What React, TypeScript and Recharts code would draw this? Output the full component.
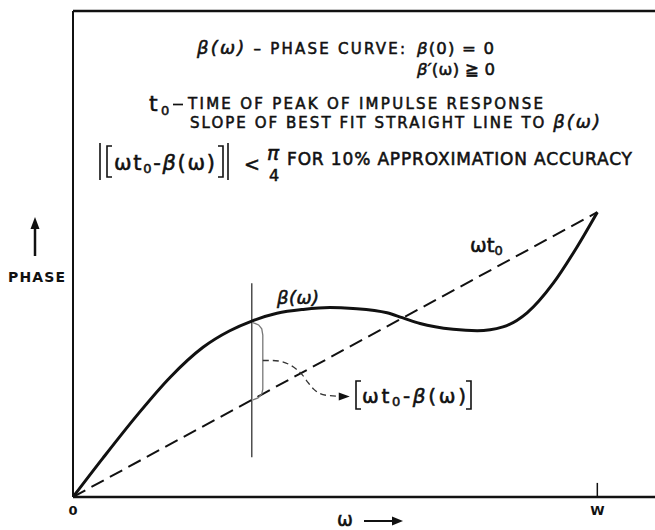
import React from "react";
import {
  ComposedChart,
  Line,
  XAxis,
  YAxis,
  ReferenceLine,
  Customized,
} from "recharts";

// Normalised frequency (W = 1) and the phase curve β(ω), in arbitrary phase units
const OMEGA = [
  0, 0.057, 0.122, 0.185, 0.248, 0.299, 0.341, 0.389, 0.439, 0.49, 0.534,
  0.599, 0.628, 0.662, 0.725, 0.771, 0.82, 0.866, 0.916, 0.961, 1.0,
];
const BETA = [
  0, 0.8, 1.68, 2.46, 3.08, 3.42, 3.62, 3.78, 3.86, 3.9, 3.88, 3.79, 3.69,
  3.57, 3.45, 3.42, 3.5, 3.79, 4.4, 5.14, 5.86,
];
// slope of the best-fit straight line ωt0
const T0 = 5.86;
const W = 1;
// frequency at which the deviation is marked
const MARK_INDEX = 6;
const X_TICKS = [0, W];
const X_TICK_LABELS = ["0", "W"];

const phaseData = OMEGA.map((w, i) => ({ w, p: BETA[i] }));
const fitData = [
  { w: 0, p: 0 },
  { w: W, p: T0 * W },
];

const w1 = OMEGA[MARK_INDEX];
const b1 = BETA[MARK_INDEX];
const fit1 = T0 * w1;

// curly brace spanning β(ω1) down to ω1·t0
const braceData = [
  { w: w1 + 0.002, p: b1 - 0.03 },
  { w: w1 + 0.013, p: b1 - 0.08 },
  { w: w1 + 0.019, p: b1 - 0.16 },
  { w: w1 + 0.021, p: b1 - 0.29 },
  { w: w1 + 0.021, p: fit1 + 0.22 },
  { w: w1 + 0.019, p: fit1 + 0.12 },
  { w: w1 + 0.012, p: fit1 + 0.04 },
  { w: w1 + 0.002, p: fit1 },
];

// dashed pointer from the brace to the deviation label
const braceMid = (b1 + fit1) / 2;
const pointerData = [
  { w: w1 + 0.021, p: braceMid },
  { w: w1 + 0.039, p: braceMid },
  { w: w1 + 0.056, p: braceMid - 0.02 },
  { w: w1 + 0.071, p: braceMid - 0.08 },
  { w: w1 + 0.084, p: braceMid - 0.17 },
  { w: w1 + 0.096, p: braceMid - 0.29 },
  { w: w1 + 0.107, p: braceMid - 0.45 },
  { w: w1 + 0.119, p: braceMid - 0.6 },
  { w: w1 + 0.13, p: braceMid - 0.68 },
  { w: w1 + 0.145, p: braceMid - 0.72 },
  { w: w1 + 0.183, p: braceMid - 0.74 },
];

const INK = "#111";
const FONT = "'DejaVu Sans', 'Liberation Sans', sans-serif";
// lettering weight: regular glyphs with a thin outline
const LETTER = { stroke: INK, strokeWidth: 0.55 };

const AxisTick = (props: any) => {
  const { x, y, payload } = props;
  const idx = X_TICKS.indexOf(payload.value);
  return (
    <text
      x={x}
      y={y + 10}
      textAnchor="middle"
      fontFamily={FONT}
      fontWeight="bold"
      fontSize={13}
      fill={INK}
    >
      {X_TICK_LABELS[idx] ?? ""}
    </text>
  );
};

const ArrowHead = (props: any) => {
  const { cx, cy, index } = props;
  if (index !== pointerData.length - 1 || cx == null) return <g key={`a${index}`} />;
  return (
    <polygon
      key={`a${index}`}
      points={`${cx + 2},${cy} ${cx - 9},${cy - 4} ${cx - 9},${cy + 4}`}
      fill={INK}
    />
  );
};

const Bracket = ({ x, y1, y2, dir }: { x: number; y1: number; y2: number; dir: number }) => (
  <path
    d={`M${x + dir * 5},${y1} L${x},${y1} L${x},${y2} L${x + dir * 5},${y2}`}
    stroke={INK}
    strokeWidth={1.6}
    fill="none"
  />
);

const Annotations = () => (
  <g fontFamily={FONT} fill={INK}>
    {/* definitions block */}
    <text x={197} y={54} fontSize={15} textLength={208} lengthAdjust="spacing" {...LETTER}>
      <tspan fontSize={18} fontStyle="italic">β(ω)</tspan>
      <tspan> – PHASE CURVE:</tspan>
    </text>
    <text x={417} y={54} fontSize={16.5} textLength={77} lengthAdjust="spacing" {...LETTER}>
      <tspan fontStyle="italic">β</tspan>(0) = 0
    </text>
    <text x={417} y={75} fontSize={16.5} textLength={78} lengthAdjust="spacing" {...LETTER}>
      <tspan fontStyle="italic">β′</tspan>(ω) ≧ 0
    </text>

    <text x={149} y={111} fontSize={22} {...LETTER}>t</text>
    <text x={161} y={115} fontSize={13} {...LETTER}>0</text>
    <line x1={173} y1={104.5} x2={183} y2={104.5} stroke={INK} strokeWidth={1.7} />
    <text x={188} y={109} fontSize={15} textLength={355} lengthAdjust="spacing" {...LETTER}>
      TIME OF PEAK OF IMPULSE RESPONSE
    </text>
    <text x={190} y={128} fontSize={15} textLength={410} lengthAdjust="spacing" {...LETTER}>
      SLOPE OF BEST FIT STRAIGHT LINE TO{" "}
      <tspan fontSize={18} fontStyle="italic">β(ω)</tspan>
    </text>

    <line x1={100} y1={143} x2={100} y2={180} stroke={INK} strokeWidth={1.6} />
    <line x1={228} y1={143} x2={228} y2={180} stroke={INK} strokeWidth={1.6} />
    <Bracket x={107} y1={146} y2={177} dir={1} />
    <Bracket x={223} y1={146} y2={177} dir={-1} />
    <text x={114} y={170} fontSize={21} textLength={101} lengthAdjust="spacing" {...LETTER}>
      ωt<tspan fontSize={13} dy={3}>0</tspan>
      <tspan dy={-3}>-</tspan>
      <tspan fontStyle="italic">β</tspan>(ω)
    </text>
    <text x={252} y={171} fontSize={19} textAnchor="middle" {...LETTER}>&lt;</text>
    <text x={273} y={160} fontSize={20} textAnchor="middle" fontStyle="italic" {...LETTER}>π</text>
    <text x={274} y={181} fontSize={16} textAnchor="middle" {...LETTER}>4</text>
    <text x={287} y={165} fontSize={17} textLength={345} lengthAdjust="spacing" {...LETTER}>
      FOR 10% APPROXIMATION ACCURACY
    </text>

    {/* in-plot labels */}
    <text x={277} y={304} fontSize={18} fontStyle="italic" textLength={42} lengthAdjust="spacing" {...LETTER}>
      β(ω)
    </text>
    <text x={470} y={252} fontSize={20} {...LETTER}>
      ωt<tspan fontSize={13} dy={3}>0</tspan>
    </text>
    <Bracket x={356} y1={381} y2={409} dir={1} />
    <Bracket x={471} y1={381} y2={409} dir={-1} />
    <text x={362} y={403} fontSize={20} textLength={104} lengthAdjust="spacing" {...LETTER}>
      ωt<tspan fontSize={13} dy={3}>0</tspan>
      <tspan dy={-3}>-</tspan>
      <tspan fontStyle="italic">β</tspan>(ω)
    </text>

    {/* axis captions */}
    <text x={8} y={282} fontSize={14} fontWeight="bold" textLength={57} lengthAdjust="spacing">
      PHASE
    </text>
    <line x1={35} y1={256} x2={35} y2={226} stroke={INK} strokeWidth={2.5} />
    <polygon points="35,217 30.5,229 39.5,229" fill={INK} />
    <text x={337} y={526} fontSize={19} {...LETTER}>ω</text>
    <line x1={364} y1={521} x2={395} y2={521} stroke={INK} strokeWidth={2} />
    <polygon points="403,521 392,516.5 392,525.5" fill={INK} />
  </g>
);

export default function App() {
  return (
    <div style={{ position: "absolute", left: 0, top: 0, width: 655, height: 530, background: "#fff" }}>
      <ComposedChart
        width={655}
        height={530}
        data={phaseData}
        margin={{ top: 11, right: 0, bottom: 32, left: 72 }}
      >
        <XAxis
          type="number"
          dataKey="w"
          domain={[0, 1.11]}
          ticks={X_TICKS}
          height={1}
          allowDataOverflow
          axisLine={{ stroke: INK, strokeWidth: 2.5 }}
          tickLine={false}
          tick={<AxisTick />}
          interval={0}
        />
        <YAxis
          type="number"
          domain={[0, 10]}
          width={1}
          allowDataOverflow
          tick={false}
          tickLine={false}
          axisLine={{ stroke: INK, strokeWidth: 2 }}
        />
        {/* top edge of the frame */}
        <ReferenceLine y={10} stroke={INK} strokeWidth={2.5} />
        {/* W tick mark */}
        <ReferenceLine
          segment={[
            { x: W, y: 0 },
            { x: W, y: 0.29 },
          ]}
          stroke={INK}
          strokeWidth={1.5}
        />
        {/* vertical marker at ω1 */}
        <ReferenceLine
          segment={[
            { x: w1, y: 0.82 },
            { x: w1, y: 4.4 },
          ]}
          stroke="#333"
          strokeWidth={1.3}
        />
        <Line
          data={fitData}
          dataKey="p"
          type="linear"
          stroke={INK}
          strokeWidth={2}
          strokeDasharray="14 7"
          dot={false}
          activeDot={false}
          isAnimationActive={false}
        />
        <Line
          dataKey="p"
          type="monotone"
          stroke={INK}
          strokeWidth={3}
          dot={false}
          activeDot={false}
          isAnimationActive={false}
        />
        <Line
          data={braceData}
          dataKey="p"
          type="linear"
          stroke="#777"
          strokeWidth={1.3}
          dot={false}
          activeDot={false}
          isAnimationActive={false}
        />
        <Line
          data={pointerData}
          dataKey="p"
          type="monotone"
          stroke="#333"
          strokeWidth={1.3}
          strokeDasharray="6 4"
          dot={<ArrowHead />}
          activeDot={false}
          isAnimationActive={false}
        />
        <Customized component={Annotations} />
      </ComposedChart>
    </div>
  );
}
